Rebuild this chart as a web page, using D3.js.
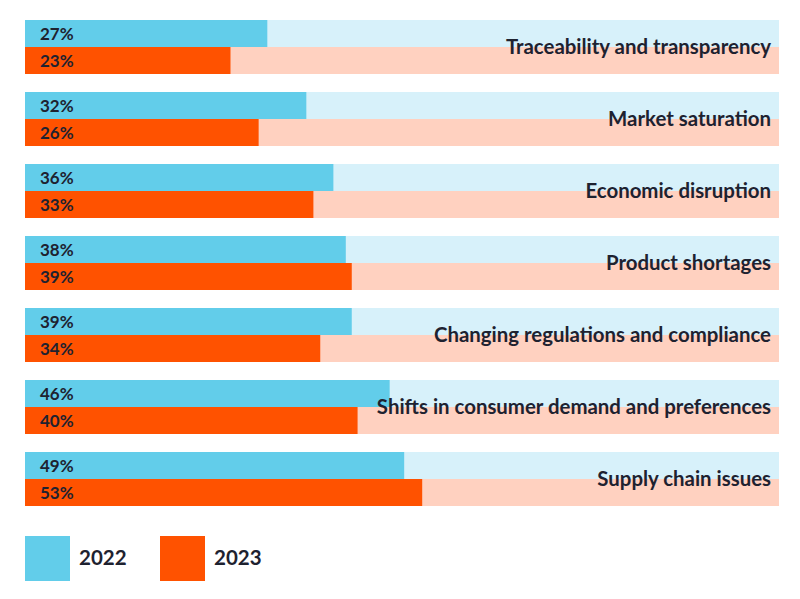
<!DOCTYPE html>
<html>
<head>
<meta charset="utf-8">
<script src="https://cdn.jsdelivr.net/npm/d3@7"></script>
<style>
  body { margin: 0; background: #fff; }
  svg text { font-family: Lato, "Open Sans", sans-serif; fill: #1e2230; }
</style>
</head>
<body>
<svg id="chart" width="800" height="599"></svg>
<script>
const categories = [
  "Traceability and transparency",
  "Market saturation",
  "Economic disruption",
  "Product shortages",
  "Changing regulations and compliance",
  "Shifts in consumer demand and preferences",
  "Supply chain issues"
];
const years = ["2022", "2023"];
const values2022 = [27, 32, 36, 38, 39, 46, 49];
const values2023 = [23, 26, 33, 39, 34, 40, 53];

const colors = { "2022": "#62cdea", "2023": "#ff5200" };
const tracks = { "2022": "#d7f1fa", "2023": "#ffd1c0" };

const margin = { top: 20, left: 25, right: 21 };
const width = 800;
const groupStep = 72;
const barH = 27;

const svg = d3.select("#chart");

// bar lengths in the original aren't linear, a log scale follows them closely
const x = d3.scaleLog().domain([9.4, 100]).range([margin.left, margin.left + 543]);

const rows = categories.map((c, i) => ({
  cat: c,
  bars: [
    { year: "2022", v: values2022[i] },
    { year: "2023", v: values2023[i] }
  ]
}));

const sub = d3.scaleBand().domain(years).range([0, barH * 2]);

const g = svg.append("g");
const row = g.selectAll("g.row")
  .data(rows)
  .join("g")
  .attr("class", "row")
  .attr("transform", (d, i) => "translate(0," + (margin.top + i * groupStep) + ")");

// background tracks
row.selectAll("rect.track")
  .data(d => d.bars)
  .join("rect")
  .attr("class", "track")
  .attr("x", margin.left)
  .attr("y", d => sub(d.year))
  .attr("width", width - margin.right - margin.left)
  .attr("height", sub.bandwidth())
  .attr("fill", d => tracks[d.year]);

// value bars
row.selectAll("rect.bar")
  .data(d => d.bars)
  .join("rect")
  .attr("class", "bar")
  .attr("x", margin.left)
  .attr("y", d => sub(d.year))
  .attr("width", d => x(d.v) - margin.left)
  .attr("height", sub.bandwidth())
  .attr("fill", d => colors[d.year]);

// percent labels
row.selectAll("text.pct")
  .data(d => d.bars)
  .join("text")
  .attr("class", "pct")
  .attr("x", 40)
  .attr("y", d => sub(d.year) + sub.bandwidth() / 2)
  .attr("dy", "0.36em")
  .attr("font-size", 17)
  .attr("font-weight", 700)
  .text(d => d.v + "%");

// category labels
row.append("text")
  .attr("x", width - margin.right - 8)
  .attr("y", barH)
  .attr("dy", "0.33em")
  .attr("text-anchor", "end")
  .attr("font-size", 20.4)
  .attr("font-weight", 700)
  .text(d => d.cat);

// legend
const legend = svg.append("g").attr("transform", "translate(25,536)");
const lg = legend.selectAll("g")
  .data(years)
  .join("g")
  .attr("transform", (d, i) => "translate(" + i * 135 + ",0)");
lg.append("rect")
  .attr("width", 45)
  .attr("height", 45)
  .attr("fill", d => colors[d]);
lg.append("text")
  .attr("x", 54)
  .attr("y", 22)
  .attr("dy", "0.36em")
  .attr("font-size", 20.5)
  .attr("font-weight", 700)
  .text(d => d);
</script>
</body>
</html>
